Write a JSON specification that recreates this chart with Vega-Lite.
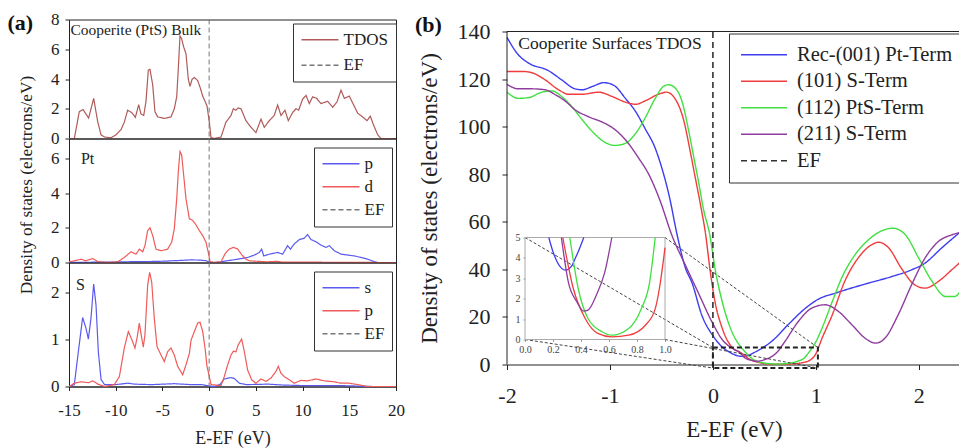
{
"$schema": "https://vega.github.io/schema/vega-lite/v6.json",
"background": "white",
"padding": {"left": 7, "top": 9.5, "right": 0, "bottom": 0},
"spacing": 10,
"resolve": {"scale": {"x": "independent", "y": "independent", "color": "independent", "strokeDash": "independent"}},
"config": {
  "font": "Liberation Serif",
  "view": {"stroke": "#222", "strokeWidth": 1},
  "axis": {"domainColor": "#222", "tickColor": "#222", "labelColor": "#222", "titleColor": "#222", "grid": false, "titleFontWeight": "normal", "labelFont": "Liberation Serif", "titleFont": "Liberation Serif", "labelOverlap": false, "labelFlush": false},
  "legend": {"labelFont": "Liberation Serif", "labelColor": "#222"},
  "title": {"font": "Liberation Serif", "color": "#111"},
  "text": {"font": "Liberation Serif"}
},
"hconcat": [
{
  "title": {"text": "(a)", "anchor": "start", "fontSize": 22, "fontWeight": "bold", "offset": -25, "dx": -9.5},
  "spacing": 0,
  "bounds": "flush",
  "resolve": {"scale": {"x": "independent", "y": "independent", "color": "independent", "strokeDash": "independent"}},
  "vconcat": [
  {
    "width": 327, "height": 119,
    "layer": [
      {"data": {"values": [
        {"x":-15,"y":0,"s":"TDOS"},{"x":-14.43,"y":0,"s":"TDOS"},{"x":-13.9,"y":1.8,"s":"TDOS"},{"x":-13.5,"y":1.95,"s":"TDOS"},{"x":-12.9,"y":1.37,"s":"TDOS"},{"x":-12.36,"y":2.7,"s":"TDOS"},{"x":-11.93,"y":1.14,"s":"TDOS"},{"x":-11.57,"y":0.25,"s":"TDOS"},{"x":-11.2,"y":0.1,"s":"TDOS"},{"x":-10.5,"y":0.05,"s":"TDOS"},{"x":-9.97,"y":0.25,"s":"TDOS"},{"x":-9.43,"y":0.6,"s":"TDOS"},{"x":-9.08,"y":1.1,"s":"TDOS"},{"x":-8.72,"y":1.9,"s":"TDOS"},{"x":-8.29,"y":1.75,"s":"TDOS"},{"x":-7.9,"y":1.42,"s":"TDOS"},{"x":-7.54,"y":2.27,"s":"TDOS"},{"x":-7.3,"y":1.65,"s":"TDOS"},{"x":-7.0,"y":1.55,"s":"TDOS"},{"x":-6.76,"y":2.5,"s":"TDOS"},{"x":-6.51,"y":4.6,"s":"TDOS"},{"x":-6.33,"y":4.65,"s":"TDOS"},{"x":-6.04,"y":3.6,"s":"TDOS"},{"x":-5.8,"y":1.8,"s":"TDOS"},{"x":-5.5,"y":1.45,"s":"TDOS"},{"x":-4.8,"y":1.35,"s":"TDOS"},{"x":-4.08,"y":1.45,"s":"TDOS"},{"x":-3.73,"y":2.0,"s":"TDOS"},{"x":-3.47,"y":2.8,"s":"TDOS"},{"x":-3.3,"y":4.7,"s":"TDOS"},{"x":-3.12,"y":6.9,"s":"TDOS"},{"x":-2.94,"y":6.7,"s":"TDOS"},{"x":-2.73,"y":6.16,"s":"TDOS"},{"x":-2.48,"y":5.7,"s":"TDOS"},{"x":-2.23,"y":4.0,"s":"TDOS"},{"x":-2.05,"y":3.5,"s":"TDOS"},{"x":-1.83,"y":3.98,"s":"TDOS"},{"x":-1.58,"y":4.1,"s":"TDOS"},{"x":-1.23,"y":3.9,"s":"TDOS"},{"x":-0.95,"y":3.4,"s":"TDOS"},{"x":-0.69,"y":2.85,"s":"TDOS"},{"x":-0.44,"y":2.5,"s":"TDOS"},{"x":-0.23,"y":2.2,"s":"TDOS"},{"x":0.02,"y":1.1,"s":"TDOS"},{"x":0.2,"y":0.06,"s":"TDOS"},{"x":0.56,"y":0,"s":"TDOS"},{"x":1.27,"y":0.1,"s":"TDOS"},{"x":1.8,"y":1.1,"s":"TDOS"},{"x":2.34,"y":1.55,"s":"TDOS"},{"x":2.59,"y":2.0,"s":"TDOS"},{"x":2.85,"y":1.9,"s":"TDOS"},{"x":3.1,"y":2.05,"s":"TDOS"},{"x":3.41,"y":2.0,"s":"TDOS"},{"x":3.94,"y":1.2,"s":"TDOS"},{"x":4.48,"y":0.75,"s":"TDOS"},{"x":5.01,"y":0.4,"s":"TDOS"},{"x":5.55,"y":1.3,"s":"TDOS"},{"x":5.9,"y":0.75,"s":"TDOS"},{"x":6.44,"y":1.2,"s":"TDOS"},{"x":6.97,"y":1.55,"s":"TDOS"},{"x":7.33,"y":2.25,"s":"TDOS"},{"x":7.69,"y":1.55,"s":"TDOS"},{"x":8.12,"y":1.9,"s":"TDOS"},{"x":8.47,"y":1.2,"s":"TDOS"},{"x":8.94,"y":1.75,"s":"TDOS"},{"x":9.3,"y":2.0,"s":"TDOS"},{"x":9.58,"y":1.9,"s":"TDOS"},{"x":10.01,"y":2.65,"s":"TDOS"},{"x":10.37,"y":2.9,"s":"TDOS"},{"x":10.72,"y":2.35,"s":"TDOS"},{"x":11.08,"y":2.8,"s":"TDOS"},{"x":11.51,"y":2.7,"s":"TDOS"},{"x":11.97,"y":2.35,"s":"TDOS"},{"x":12.69,"y":2.5,"s":"TDOS"},{"x":13.22,"y":2.1,"s":"TDOS"},{"x":13.68,"y":2.45,"s":"TDOS"},{"x":14.11,"y":3.25,"s":"TDOS"},{"x":14.47,"y":2.7,"s":"TDOS"},{"x":15.0,"y":2.85,"s":"TDOS"},{"x":15.47,"y":2.25,"s":"TDOS"},{"x":15.9,"y":1.7,"s":"TDOS"},{"x":16.43,"y":1.45,"s":"TDOS"},{"x":16.9,"y":1.2,"s":"TDOS"},{"x":17.25,"y":1.5,"s":"TDOS"},{"x":17.6,"y":0.9,"s":"TDOS"},{"x":18.04,"y":0.25,"s":"TDOS"},{"x":18.4,"y":0,"s":"TDOS"},{"x":20,"y":0,"s":"TDOS"}
      ]},
       "mark": {"type": "line", "strokeWidth": 1.2},
       "encoding": {
         "x": {"field": "x", "type": "quantitative", "scale": {"domain": [-15, 20], "nice": false, "zero": false}, "axis": null},
         "y": {"field": "y", "type": "quantitative", "scale": {"domain": [0, 8], "nice": false}, "axis": {"values": [0, 2, 4, 6, 8], "tickCount": 5, "format": "d", "title": null, "labelFontSize": 17, "tickSize": 4, "labelPadding": 6, "labelOverlap": false, "labelBound": false}},
         "color": {"field": "s", "type": "nominal", "sort": null, "scale": {"domain": ["TDOS", "EF"], "range": ["#b05a5a", "#777777"]},
           "legend": {"title": null, "orient": "none", "legendX": 224, "legendY": 4, "strokeColor": "#333", "padding": 7.5, "symbolType": "stroke", "symbolSize": 1369, "clipHeight": 17.5, "symbolStrokeWidth": 1.3, "labelFontSize": 17, "labelOffset": 4, "rowPadding": 6.5}},
         "strokeDash": {"field": "s", "type": "nominal", "sort": null, "scale": {"domain": ["TDOS", "EF"], "range": [[1, 0], [5, 3]]},
           "legend": {"title": null, "orient": "none", "legendX": 224, "legendY": 4, "strokeColor": "#333", "padding": 7.5, "symbolType": "stroke", "symbolSize": 1369, "clipHeight": 17.5, "symbolStrokeWidth": 1.3, "labelFontSize": 17, "labelOffset": 4, "rowPadding": 6.5}}
       }},
      {"data": {"values": [{"x": 0, "s": "EF"}]},
       "mark": {"type": "rule", "strokeWidth": 1},
       "encoding": {
         "x": {"field": "x", "type": "quantitative", "axis": null},
         "color": {"field": "s", "type": "nominal"},
         "strokeDash": {"field": "s", "type": "nominal"}
       }},
      {"data": {"values": [{"x": -14.85, "y": 7.3, "t": "Cooperite (PtS) Bulk"}]},
       "mark": {"type": "text", "align": "left", "baseline": "middle", "fontSize": 15.5, "color": "#222"},
       "encoding": {
         "x": {"field": "x", "type": "quantitative", "axis": null},
         "y": {"field": "y", "type": "quantitative", "axis": {"values": [0, 2, 4, 6, 8], "tickCount": 5, "format": "d", "title": null, "labelFontSize": 17, "tickSize": 4, "labelPadding": 6, "labelOverlap": false, "labelBound": false}},
         "text": {"field": "t"}
       }}
    ]
  },
  {
    "width": 327, "height": 124,
    "layer": [
      {"data": {"values": [
        {"x":-15,"y":0,"s":"p"},{"x":-12,"y":0.02,"s":"p"},{"x":-10,"y":0.03,"s":"p"},{"x":-8,"y":0.05,"s":"p"},{"x":-6,"y":0.06,"s":"p"},{"x":-4.5,"y":0.08,"s":"p"},{"x":-4,"y":0.1,"s":"p"},{"x":-3,"y":0.12,"s":"p"},{"x":-2,"y":0.15,"s":"p"},{"x":-1,"y":0.14,"s":"p"},{"x":-0.3,"y":0.1,"s":"p"},{"x":0,"y":0.02,"s":"p"},{"x":0.5,"y":0,"s":"p"},{"x":1.2,"y":0.03,"s":"p"},{"x":1.45,"y":0.06,"s":"p"},{"x":2.69,"y":0.16,"s":"p"},{"x":4.12,"y":0.29,"s":"p"},{"x":4.84,"y":0.43,"s":"p"},{"x":5.37,"y":0.58,"s":"p"},{"x":5.62,"y":0.77,"s":"p"},{"x":5.84,"y":0.38,"s":"p"},{"x":6.44,"y":0.48,"s":"p"},{"x":7.33,"y":0.58,"s":"p"},{"x":7.87,"y":0.48,"s":"p"},{"x":8.4,"y":0.97,"s":"p"},{"x":8.7,"y":0.77,"s":"p"},{"x":9.11,"y":1.07,"s":"p"},{"x":9.65,"y":1.32,"s":"p"},{"x":10.18,"y":1.4,"s":"p"},{"x":10.54,"y":1.61,"s":"p"},{"x":10.9,"y":1.32,"s":"p"},{"x":11.43,"y":1.2,"s":"p"},{"x":11.97,"y":1.0,"s":"p"},{"x":12.5,"y":0.87,"s":"p"},{"x":12.86,"y":0.97,"s":"p"},{"x":13.4,"y":0.68,"s":"p"},{"x":14.11,"y":0.48,"s":"p"},{"x":14.83,"y":0.43,"s":"p"},{"x":15.54,"y":0.38,"s":"p"},{"x":16.25,"y":0.29,"s":"p"},{"x":16.97,"y":0.19,"s":"p"},{"x":17.68,"y":0.05,"s":"p"},{"x":18.04,"y":0,"s":"p"},{"x":20,"y":0,"s":"p"},
        {"x":-15,"y":0.04,"s":"d"},{"x":-14.43,"y":0.1,"s":"d"},{"x":-13.7,"y":0.19,"s":"d"},{"x":-13.2,"y":0.1,"s":"d"},{"x":-12.46,"y":0.23,"s":"d"},{"x":-11.9,"y":0.04,"s":"d"},{"x":-10.86,"y":0,"s":"d"},{"x":-9.79,"y":0.04,"s":"d"},{"x":-9.08,"y":0.29,"s":"d"},{"x":-8.36,"y":0.62,"s":"d"},{"x":-7.83,"y":0.48,"s":"d"},{"x":-7.47,"y":0.77,"s":"d"},{"x":-7.11,"y":0.62,"s":"d"},{"x":-6.87,"y":0.97,"s":"d"},{"x":-6.58,"y":1.84,"s":"d"},{"x":-6.33,"y":2.0,"s":"d"},{"x":-6.04,"y":1.55,"s":"d"},{"x":-5.69,"y":0.77,"s":"d"},{"x":-5.15,"y":0.68,"s":"d"},{"x":-4.44,"y":0.77,"s":"d"},{"x":-4.01,"y":1.17,"s":"d"},{"x":-3.73,"y":1.94,"s":"d"},{"x":-3.47,"y":3.68,"s":"d"},{"x":-3.3,"y":5.24,"s":"d"},{"x":-3.12,"y":6.4,"s":"d"},{"x":-2.94,"y":6.2,"s":"d"},{"x":-2.73,"y":5.05,"s":"d"},{"x":-2.48,"y":3.68,"s":"d"},{"x":-2.12,"y":2.52,"s":"d"},{"x":-1.77,"y":2.43,"s":"d"},{"x":-1.41,"y":2.17,"s":"d"},{"x":-1.05,"y":1.84,"s":"d"},{"x":-0.69,"y":1.55,"s":"d"},{"x":-0.34,"y":1.17,"s":"d"},{"x":-0.09,"y":0.58,"s":"d"},{"x":0.1,"y":0.04,"s":"d"},{"x":0.6,"y":0,"s":"d"},{"x":1.27,"y":0.04,"s":"d"},{"x":1.7,"y":0.5,"s":"d"},{"x":2.16,"y":0.78,"s":"d"},{"x":2.6,"y":0.87,"s":"d"},{"x":3.05,"y":0.78,"s":"d"},{"x":3.48,"y":0.45,"s":"d"},{"x":3.94,"y":0.19,"s":"d"},{"x":4.3,"y":0.1,"s":"d"},{"x":4.8,"y":0.08,"s":"d"},{"x":6.2,"y":0.04,"s":"d"},{"x":7.3,"y":0.07,"s":"d"},{"x":7.8,"y":0.02,"s":"d"},{"x":10,"y":0.02,"s":"d"},{"x":15,"y":0.01,"s":"d"},{"x":18,"y":0,"s":"d"},{"x":20,"y":0,"s":"d"}
      ]},
       "mark": {"type": "line", "strokeWidth": 1.2},
       "encoding": {
         "x": {"field": "x", "type": "quantitative", "scale": {"domain": [-15, 20], "nice": false, "zero": false}, "axis": null},
         "y": {"field": "y", "type": "quantitative", "scale": {"domain": [0, 7.15], "nice": false}, "axis": {"values": [0, 2, 4, 6], "format": "d", "title": "Density of states (electrons/eV)", "titleFontSize": 17.3, "titleY": 46, "titlePadding": 15, "labelFontSize": 17, "tickSize": 4, "labelPadding": 6, "labelOverlap": false}},
         "color": {"field": "s", "type": "nominal", "sort": null, "scale": {"domain": ["p", "d", "EF"], "range": ["#5a5af0", "#f05a5a", "#777777"]},
           "legend": {"title": null, "orient": "none", "legendX": 245, "legendY": 9, "strokeColor": "#333", "padding": 7.5, "symbolType": "stroke", "symbolSize": 1369, "clipHeight": 17.5, "symbolStrokeWidth": 1.3, "labelFontSize": 17, "labelOffset": 4, "rowPadding": 4}},
         "strokeDash": {"field": "s", "type": "nominal", "sort": null, "scale": {"domain": ["p", "d", "EF"], "range": [[1, 0], [1, 0], [5, 3]]},
           "legend": {"title": null, "orient": "none", "legendX": 245, "legendY": 9, "strokeColor": "#333", "padding": 7.5, "symbolType": "stroke", "symbolSize": 1369, "clipHeight": 17.5, "symbolStrokeWidth": 1.3, "labelFontSize": 17, "labelOffset": 4, "rowPadding": 4}}
       }},
      {"data": {"values": [{"x": 0, "s": "EF"}]},
       "mark": {"type": "rule", "strokeWidth": 1},
       "encoding": {
         "x": {"field": "x", "type": "quantitative", "axis": null},
         "color": {"field": "s", "type": "nominal"},
         "strokeDash": {"field": "s", "type": "nominal"}
       }},
      {"data": {"values": [{"x": -13.72, "y": 5.94, "t": "Pt"}]},
       "mark": {"type": "text", "align": "left", "baseline": "middle", "fontSize": 16, "color": "#222"},
       "encoding": {
         "x": {"field": "x", "type": "quantitative", "axis": null},
         "y": {"field": "y", "type": "quantitative", "axis": {"values": [0, 2, 4, 6], "format": "d", "title": "Density of states (electrons/eV)", "titleFontSize": 17.3, "titleY": 46, "titlePadding": 15, "labelFontSize": 17, "tickSize": 4, "labelPadding": 6, "labelOverlap": false}},
         "text": {"field": "t"}
       }}
    ]
  },
  {
    "width": 327, "height": 124,
    "layer": [
      {"data": {"values": [
        {"x":-15,"y":0,"s":"s"},{"x":-14.43,"y":0.04,"s":"s"},{"x":-14.0,"y":0.74,"s":"s"},{"x":-13.54,"y":1.47,"s":"s"},{"x":-13.18,"y":1.24,"s":"s"},{"x":-12.93,"y":1.01,"s":"s"},{"x":-12.65,"y":1.45,"s":"s"},{"x":-12.36,"y":2.18,"s":"s"},{"x":-12.11,"y":1.74,"s":"s"},{"x":-11.86,"y":0.74,"s":"s"},{"x":-11.57,"y":0.15,"s":"s"},{"x":-11.2,"y":0.04,"s":"s"},{"x":-10,"y":0.04,"s":"s"},{"x":-8.7,"y":0.07,"s":"s"},{"x":-8,"y":0.05,"s":"s"},{"x":-6.2,"y":0.04,"s":"s"},{"x":-3.7,"y":0.06,"s":"s"},{"x":-2,"y":0.04,"s":"s"},{"x":-0.8,"y":0.04,"s":"s"},{"x":0,"y":0.01,"s":"s"},{"x":0.6,"y":0,"s":"s"},{"x":1.2,"y":0.05,"s":"s"},{"x":1.62,"y":0.16,"s":"s"},{"x":2.34,"y":0.19,"s":"s"},{"x":2.7,"y":0.17,"s":"s"},{"x":3.23,"y":0.07,"s":"s"},{"x":4.0,"y":0.04,"s":"s"},{"x":6.3,"y":0.05,"s":"s"},{"x":8,"y":0.03,"s":"s"},{"x":10,"y":0.02,"s":"s"},{"x":14,"y":0.02,"s":"s"},{"x":17.5,"y":0,"s":"s"},{"x":20,"y":0,"s":"s"},
        {"x":-15,"y":0,"s":"p"},{"x":-14.43,"y":0.07,"s":"p"},{"x":-13.7,"y":0.1,"s":"p"},{"x":-12.9,"y":0.08,"s":"p"},{"x":-12.46,"y":0.12,"s":"p"},{"x":-11.9,"y":0.05,"s":"p"},{"x":-11.2,"y":0,"s":"p"},{"x":-10.15,"y":0.04,"s":"p"},{"x":-9.61,"y":0.21,"s":"p"},{"x":-9.08,"y":0.82,"s":"p"},{"x":-8.65,"y":1.17,"s":"p"},{"x":-8.26,"y":0.99,"s":"p"},{"x":-7.94,"y":0.82,"s":"p"},{"x":-7.72,"y":1.03,"s":"p"},{"x":-7.47,"y":1.35,"s":"p"},{"x":-7.3,"y":1.13,"s":"p"},{"x":-7.05,"y":0.84,"s":"p"},{"x":-6.87,"y":1.1,"s":"p"},{"x":-6.58,"y":2.16,"s":"p"},{"x":-6.37,"y":2.43,"s":"p"},{"x":-6.15,"y":2.23,"s":"p"},{"x":-5.87,"y":1.45,"s":"p"},{"x":-5.58,"y":0.85,"s":"p"},{"x":-5.15,"y":0.67,"s":"p"},{"x":-4.8,"y":0.53,"s":"p"},{"x":-4.44,"y":0.74,"s":"p"},{"x":-4.08,"y":0.82,"s":"p"},{"x":-3.73,"y":0.67,"s":"p"},{"x":-3.37,"y":0.43,"s":"p"},{"x":-2.83,"y":0.25,"s":"p"},{"x":-2.48,"y":0.46,"s":"p"},{"x":-2.12,"y":0.7,"s":"p"},{"x":-1.93,"y":0.99,"s":"p"},{"x":-1.58,"y":1.17,"s":"p"},{"x":-1.23,"y":1.35,"s":"p"},{"x":-0.98,"y":1.37,"s":"p"},{"x":-0.69,"y":1.17,"s":"p"},{"x":-0.44,"y":0.82,"s":"p"},{"x":-0.23,"y":0.43,"s":"p"},{"x":0.02,"y":0.21,"s":"p"},{"x":0.2,"y":0.04,"s":"p"},{"x":1.27,"y":0.02,"s":"p"},{"x":1.62,"y":0.21,"s":"p"},{"x":1.98,"y":0.46,"s":"p"},{"x":2.34,"y":0.67,"s":"p"},{"x":2.59,"y":0.75,"s":"p"},{"x":2.87,"y":0.74,"s":"p"},{"x":3.12,"y":0.89,"s":"p"},{"x":3.48,"y":1.01,"s":"p"},{"x":3.77,"y":0.74,"s":"p"},{"x":4.12,"y":0.35,"s":"p"},{"x":4.56,"y":0.14,"s":"p"},{"x":5.01,"y":0.07,"s":"p"},{"x":5.55,"y":0.16,"s":"p"},{"x":6.08,"y":0.11,"s":"p"},{"x":6.62,"y":0.18,"s":"p"},{"x":7.15,"y":0.32,"s":"p"},{"x":7.4,"y":0.43,"s":"p"},{"x":7.69,"y":0.28,"s":"p"},{"x":8.05,"y":0.21,"s":"p"},{"x":8.6,"y":0.14,"s":"p"},{"x":9.1,"y":0.07,"s":"p"},{"x":9.83,"y":0.13,"s":"p"},{"x":10.5,"y":0.12,"s":"p"},{"x":11.43,"y":0.16,"s":"p"},{"x":12.33,"y":0.12,"s":"p"},{"x":13.4,"y":0.1,"s":"p"},{"x":14.1,"y":0.07,"s":"p"},{"x":15.0,"y":0.07,"s":"p"},{"x":15.9,"y":0.04,"s":"p"},{"x":16.97,"y":0,"s":"p"},{"x":20,"y":0,"s":"p"}
      ]},
       "mark": {"type": "line", "strokeWidth": 1.2},
       "encoding": {
         "x": {"field": "x", "type": "quantitative", "scale": {"domain": [-15, 20], "nice": false, "zero": false}, "axis": {"values": [-15, -10, -5, 0, 5, 10, 15, 20], "format": "d", "title": "E-EF (eV)", "labelFontSize": 17, "titleFontSize": 18, "tickSize": 4, "labelPadding": 12, "titlePadding": 11, "labelFlush": false, "labelOverlap": false, "labelExpr": "replace(datum.label, '\u2212', '-')"}},
         "y": {"field": "y", "type": "quantitative", "scale": {"domain": [0, 2.64], "nice": false}, "axis": {"values": [0, 1, 2], "format": "d", "title": null, "labelFontSize": 17, "tickSize": 4, "labelPadding": 6, "labelOverlap": false}},
         "color": {"field": "s", "type": "nominal", "sort": null, "scale": {"domain": ["s", "p", "EF"], "range": ["#5a5af0", "#f05a5a", "#777777"]},
           "legend": {"title": null, "orient": "none", "legendX": 245, "legendY": 9, "strokeColor": "#333", "padding": 7.5, "symbolType": "stroke", "symbolSize": 1369, "clipHeight": 17.5, "symbolStrokeWidth": 1.3, "labelFontSize": 17, "labelOffset": 4, "rowPadding": 4}},
         "strokeDash": {"field": "s", "type": "nominal", "sort": null, "scale": {"domain": ["s", "p", "EF"], "range": [[1, 0], [1, 0], [5, 3]]},
           "legend": {"title": null, "orient": "none", "legendX": 245, "legendY": 9, "strokeColor": "#333", "padding": 7.5, "symbolType": "stroke", "symbolSize": 1369, "clipHeight": 17.5, "symbolStrokeWidth": 1.3, "labelFontSize": 17, "labelOffset": 4, "rowPadding": 4}}
       }},
      {"data": {"values": [{"x": 0, "s": "EF"}]},
       "mark": {"type": "rule", "strokeWidth": 1},
       "encoding": {
         "x": {"field": "x", "type": "quantitative", "axis": {"values": [-15, -10, -5, 0, 5, 10, 15, 20], "format": "d", "title": "E-EF (eV)", "labelFontSize": 17, "titleFontSize": 18, "tickSize": 4, "labelPadding": 12, "titlePadding": 11, "labelFlush": false, "labelOverlap": false, "labelExpr": "replace(datum.label, '\u2212', '-')"}},
         "color": {"field": "s", "type": "nominal"},
         "strokeDash": {"field": "s", "type": "nominal"}
       }},
      {"data": {"values": [{"x": -14.25, "y": 2.17, "t": "S"}]},
       "mark": {"type": "text", "align": "left", "baseline": "middle", "fontSize": 16, "color": "#222"},
       "encoding": {
         "x": {"field": "x", "type": "quantitative", "axis": {"values": [-15, -10, -5, 0, 5, 10, 15, 20], "format": "d", "title": "E-EF (eV)", "labelFontSize": 17, "titleFontSize": 18, "tickSize": 4, "labelPadding": 12, "titlePadding": 11, "labelFlush": false, "labelOverlap": false, "labelExpr": "replace(datum.label, '\u2212', '-')"}},
         "y": {"field": "y", "type": "quantitative", "axis": {"values": [0, 1, 2], "format": "d", "title": null, "labelFontSize": 17, "tickSize": 4, "labelPadding": 6, "labelOverlap": false}},
         "text": {"field": "t"}
       }}
    ]
  }
  ]
},
{
  "title": {"text": "(b)", "anchor": "start", "fontSize": 22, "fontWeight": "bold", "offset": -17, "dx": -3},
  "width": 454, "height": 345,
  "view": {"stroke": null},
  "resolve": {"scale": {"x": "independent", "y": "independent"}, "axis": {"x": "independent", "y": "independent"}},
  "layer": [
    {"layer": [
      {"data": {"values": [
        {"x":-2,"y":137.5,"s":"Rec-(001) Pt-Term"},{"x":-1.89,"y":130.2,"s":"Rec-(001) Pt-Term"},{"x":-1.79,"y":126.7,"s":"Rec-(001) Pt-Term"},{"x":-1.6,"y":123.6,"s":"Rec-(001) Pt-Term"},{"x":-1.47,"y":119.7,"s":"Rec-(001) Pt-Term"},{"x":-1.34,"y":115.9,"s":"Rec-(001) Pt-Term"},{"x":-1.27,"y":115.5,"s":"Rec-(001) Pt-Term"},{"x":-1.17,"y":116.9,"s":"Rec-(001) Pt-Term"},{"x":-1.06,"y":118.5,"s":"Rec-(001) Pt-Term"},{"x":-0.96,"y":117.3,"s":"Rec-(001) Pt-Term"},{"x":-0.85,"y":111.9,"s":"Rec-(001) Pt-Term"},{"x":-0.75,"y":106.3,"s":"Rec-(001) Pt-Term"},{"x":-0.66,"y":99.3,"s":"Rec-(001) Pt-Term"},{"x":-0.56,"y":90.9,"s":"Rec-(001) Pt-Term"},{"x":-0.5,"y":83.2,"s":"Rec-(001) Pt-Term"},{"x":-0.42,"y":70,"s":"Rec-(001) Pt-Term"},{"x":-0.35,"y":55,"s":"Rec-(001) Pt-Term"},{"x":-0.27,"y":41,"s":"Rec-(001) Pt-Term"},{"x":-0.2,"y":34,"s":"Rec-(001) Pt-Term"},{"x":-0.11,"y":21,"s":"Rec-(001) Pt-Term"},{"x":0.01,"y":11.5,"s":"Rec-(001) Pt-Term"},{"x":0.12,"y":6.3,"s":"Rec-(001) Pt-Term"},{"x":0.17,"y":5.0,"s":"Rec-(001) Pt-Term"},{"x":0.23,"y":3.8,"s":"Rec-(001) Pt-Term"},{"x":0.29,"y":3.4,"s":"Rec-(001) Pt-Term"},{"x":0.35,"y":3.9,"s":"Rec-(001) Pt-Term"},{"x":0.4,"y":5.0,"s":"Rec-(001) Pt-Term"},{"x":0.45,"y":6.2,"s":"Rec-(001) Pt-Term"},{"x":0.57,"y":9.7,"s":"Rec-(001) Pt-Term"},{"x":0.73,"y":16.7,"s":"Rec-(001) Pt-Term"},{"x":0.9,"y":23.7,"s":"Rec-(001) Pt-Term"},{"x":1.03,"y":27.6,"s":"Rec-(001) Pt-Term"},{"x":1.19,"y":30,"s":"Rec-(001) Pt-Term"},{"x":1.32,"y":31.8,"s":"Rec-(001) Pt-Term"},{"x":1.51,"y":34.2,"s":"Rec-(001) Pt-Term"},{"x":1.74,"y":37,"s":"Rec-(001) Pt-Term"},{"x":1.93,"y":39.8,"s":"Rec-(001) Pt-Term"},{"x":2.06,"y":42.6,"s":"Rec-(001) Pt-Term"},{"x":2.22,"y":48.9,"s":"Rec-(001) Pt-Term"},{"x":2.41,"y":56,"s":"Rec-(001) Pt-Term"},
        {"x":-2,"y":123.2,"s":"(101) S-Term"},{"x":-1.85,"y":123.2,"s":"(101) S-Term"},{"x":-1.76,"y":122.7,"s":"(101) S-Term"},{"x":-1.63,"y":119.7,"s":"(101) S-Term"},{"x":-1.5,"y":115.5,"s":"(101) S-Term"},{"x":-1.4,"y":113.6,"s":"(101) S-Term"},{"x":-1.27,"y":113.6,"s":"(101) S-Term"},{"x":-1.11,"y":114.5,"s":"(101) S-Term"},{"x":-0.98,"y":112.7,"s":"(101) S-Term"},{"x":-0.85,"y":110.3,"s":"(101) S-Term"},{"x":-0.75,"y":109.4,"s":"(101) S-Term"},{"x":-0.66,"y":110.8,"s":"(101) S-Term"},{"x":-0.53,"y":113.6,"s":"(101) S-Term"},{"x":-0.45,"y":114.5,"s":"(101) S-Term"},{"x":-0.37,"y":111.9,"s":"(101) S-Term"},{"x":-0.28,"y":102.1,"s":"(101) S-Term"},{"x":-0.22,"y":89.5,"s":"(101) S-Term"},{"x":-0.17,"y":78.3,"s":"(101) S-Term"},{"x":-0.12,"y":67,"s":"(101) S-Term"},{"x":-0.07,"y":54.5,"s":"(101) S-Term"},{"x":-0.03,"y":40.5,"s":"(101) S-Term"},{"x":0.02,"y":26.5,"s":"(101) S-Term"},{"x":0.09,"y":15.3,"s":"(101) S-Term"},{"x":0.18,"y":7.5,"s":"(101) S-Term"},{"x":0.27,"y":5,"s":"(101) S-Term"},{"x":0.345,"y":2.5,"s":"(101) S-Term"},{"x":0.43,"y":1.0,"s":"(101) S-Term"},{"x":0.52,"y":0.3,"s":"(101) S-Term"},{"x":0.62,"y":0.13,"s":"(101) S-Term"},{"x":0.74,"y":0.21,"s":"(101) S-Term"},{"x":0.86,"y":0.7,"s":"(101) S-Term"},{"x":0.93,"y":1.5,"s":"(101) S-Term"},{"x":1.0,"y":4.5,"s":"(101) S-Term"},{"x":1.06,"y":11,"s":"(101) S-Term"},{"x":1.16,"y":20.9,"s":"(101) S-Term"},{"x":1.28,"y":34.9,"s":"(101) S-Term"},{"x":1.41,"y":44.7,"s":"(101) S-Term"},{"x":1.54,"y":50.3,"s":"(101) S-Term"},{"x":1.61,"y":51.4,"s":"(101) S-Term"},{"x":1.71,"y":48.9,"s":"(101) S-Term"},{"x":1.83,"y":40.5,"s":"(101) S-Term"},{"x":1.96,"y":33.5,"s":"(101) S-Term"},{"x":2.06,"y":32.1,"s":"(101) S-Term"},{"x":2.19,"y":34.9,"s":"(101) S-Term"},{"x":2.32,"y":39.8,"s":"(101) S-Term"},{"x":2.41,"y":43.3,"s":"(101) S-Term"},
        {"x":-2,"y":114.5,"s":"(112) PtS-Term"},{"x":-1.89,"y":111.9,"s":"(112) PtS-Term"},{"x":-1.79,"y":112.2,"s":"(112) PtS-Term"},{"x":-1.66,"y":114.5,"s":"(112) PtS-Term"},{"x":-1.56,"y":115,"s":"(112) PtS-Term"},{"x":-1.47,"y":112.7,"s":"(112) PtS-Term"},{"x":-1.37,"y":108.4,"s":"(112) PtS-Term"},{"x":-1.27,"y":102.9,"s":"(112) PtS-Term"},{"x":-1.17,"y":97.9,"s":"(112) PtS-Term"},{"x":-1.06,"y":93.7,"s":"(112) PtS-Term"},{"x":-0.95,"y":92.1,"s":"(112) PtS-Term"},{"x":-0.85,"y":93.0,"s":"(112) PtS-Term"},{"x":-0.75,"y":97.2,"s":"(112) PtS-Term"},{"x":-0.66,"y":103.5,"s":"(112) PtS-Term"},{"x":-0.56,"y":111.9,"s":"(112) PtS-Term"},{"x":-0.48,"y":116.9,"s":"(112) PtS-Term"},{"x":-0.43,"y":117.6,"s":"(112) PtS-Term"},{"x":-0.37,"y":116.4,"s":"(112) PtS-Term"},{"x":-0.3,"y":110.6,"s":"(112) PtS-Term"},{"x":-0.24,"y":99.3,"s":"(112) PtS-Term"},{"x":-0.19,"y":88.1,"s":"(112) PtS-Term"},{"x":-0.14,"y":76.9,"s":"(112) PtS-Term"},{"x":-0.09,"y":65,"s":"(112) PtS-Term"},{"x":-0.03,"y":54.5,"s":"(112) PtS-Term"},{"x":0.02,"y":40.5,"s":"(112) PtS-Term"},{"x":0.09,"y":26.5,"s":"(112) PtS-Term"},{"x":0.17,"y":15.3,"s":"(112) PtS-Term"},{"x":0.28,"y":6.9,"s":"(112) PtS-Term"},{"x":0.32,"y":5,"s":"(112) PtS-Term"},{"x":0.38,"y":2.5,"s":"(112) PtS-Term"},{"x":0.45,"y":1.03,"s":"(112) PtS-Term"},{"x":0.55,"y":0.38,"s":"(112) PtS-Term"},{"x":0.62,"y":0.21,"s":"(112) PtS-Term"},{"x":0.74,"y":0.54,"s":"(112) PtS-Term"},{"x":0.83,"y":1.5,"s":"(112) PtS-Term"},{"x":0.89,"y":2.8,"s":"(112) PtS-Term"},{"x":0.93,"y":5,"s":"(112) PtS-Term"},{"x":1.0,"y":9.5,"s":"(112) PtS-Term"},{"x":1.06,"y":15.3,"s":"(112) PtS-Term"},{"x":1.16,"y":26.5,"s":"(112) PtS-Term"},{"x":1.25,"y":36.3,"s":"(112) PtS-Term"},{"x":1.38,"y":46.1,"s":"(112) PtS-Term"},{"x":1.51,"y":52.4,"s":"(112) PtS-Term"},{"x":1.64,"y":56.2,"s":"(112) PtS-Term"},{"x":1.75,"y":57.3,"s":"(112) PtS-Term"},{"x":1.87,"y":54.5,"s":"(112) PtS-Term"},{"x":2.0,"y":44.7,"s":"(112) PtS-Term"},{"x":2.13,"y":34.9,"s":"(112) PtS-Term"},{"x":2.26,"y":28.6,"s":"(112) PtS-Term"},{"x":2.35,"y":28.6,"s":"(112) PtS-Term"},{"x":2.41,"y":31.4,"s":"(112) PtS-Term"},
        {"x":-2,"y":117.8,"s":"(211) S-Term"},{"x":-1.89,"y":115.9,"s":"(211) S-Term"},{"x":-1.76,"y":115.9,"s":"(211) S-Term"},{"x":-1.63,"y":115.5,"s":"(211) S-Term"},{"x":-1.53,"y":113.4,"s":"(211) S-Term"},{"x":-1.43,"y":110.6,"s":"(211) S-Term"},{"x":-1.34,"y":107.1,"s":"(211) S-Term"},{"x":-1.21,"y":104.2,"s":"(211) S-Term"},{"x":-1.05,"y":101.4,"s":"(211) S-Term"},{"x":-0.95,"y":98.7,"s":"(211) S-Term"},{"x":-0.85,"y":94.5,"s":"(211) S-Term"},{"x":-0.72,"y":86.7,"s":"(211) S-Term"},{"x":-0.62,"y":79.7,"s":"(211) S-Term"},{"x":-0.51,"y":68.5,"s":"(211) S-Term"},{"x":-0.4,"y":54.5,"s":"(211) S-Term"},{"x":-0.27,"y":42,"s":"(211) S-Term"},{"x":-0.14,"y":30,"s":"(211) S-Term"},{"x":-0.01,"y":18,"s":"(211) S-Term"},{"x":0.09,"y":10.5,"s":"(211) S-Term"},{"x":0.2,"y":6.5,"s":"(211) S-Term"},{"x":0.26,"y":5,"s":"(211) S-Term"},{"x":0.31,"y":2.8,"s":"(211) S-Term"},{"x":0.37,"y":1.85,"s":"(211) S-Term"},{"x":0.42,"y":1.39,"s":"(211) S-Term"},{"x":0.45,"y":1.44,"s":"(211) S-Term"},{"x":0.51,"y":2.18,"s":"(211) S-Term"},{"x":0.57,"y":3.3,"s":"(211) S-Term"},{"x":0.62,"y":5,"s":"(211) S-Term"},{"x":0.7,"y":9.7,"s":"(211) S-Term"},{"x":0.83,"y":18.1,"s":"(211) S-Term"},{"x":0.96,"y":23.7,"s":"(211) S-Term"},{"x":1.09,"y":25.1,"s":"(211) S-Term"},{"x":1.22,"y":22.3,"s":"(211) S-Term"},{"x":1.35,"y":16.7,"s":"(211) S-Term"},{"x":1.48,"y":11,"s":"(211) S-Term"},{"x":1.58,"y":9.0,"s":"(211) S-Term"},{"x":1.67,"y":11,"s":"(211) S-Term"},{"x":1.8,"y":20.9,"s":"(211) S-Term"},{"x":1.93,"y":33.5,"s":"(211) S-Term"},{"x":2.06,"y":44.7,"s":"(211) S-Term"},{"x":2.19,"y":51.7,"s":"(211) S-Term"},{"x":2.32,"y":54.5,"s":"(211) S-Term"},{"x":2.41,"y":55.6,"s":"(211) S-Term"}
      ]},
       "mark": {"type": "line", "strokeWidth": 1.4, "interpolate": "monotone"},
       "encoding": {
         "x": {"field": "x", "type": "quantitative", "scale": {"domain": [-2, 2.41], "nice": false, "zero": false}, "axis": {"values": [-2, -1, 0, 1, 2], "format": "d", "title": "E-EF (eV)", "labelFontSize": 22, "titleFontSize": 23, "tickSize": 5, "labelPadding": 16, "titlePadding": 12, "labelFlush": false, "labelOverlap": false, "labelExpr": "replace(datum.label, '\u2212', '-')"}},
         "y": {"field": "y", "type": "quantitative", "scale": {"domain": [0, 145.045], "nice": false}, "axis": {"values": [0, 20, 40, 60, 80, 100, 120, 140], "format": "d", "domain": false, "title": "Density of states (electrons/eV)", "titleY": 178.5, "labelFontSize": 22, "titleFontSize": 23, "tickSize": 5, "labelPadding": 12, "titlePadding": 16, "labelOverlap": false}},
         "color": {"field": "s", "type": "nominal", "sort": null, "scale": {"domain": ["Rec-(001) Pt-Term", "(101) S-Term", "(112) PtS-Term", "(211) S-Term", "EF"], "range": ["#3c3cf0", "#f03c3c", "#40e040", "#8e3c9e", "#333333"]},
           "legend": {"title": null, "orient": "none", "legendX": 222, "legendY": 14, "strokeColor": "#333", "padding": 11, "symbolType": "stroke", "symbolSize": 2116, "clipHeight": 20.5, "symbolStrokeWidth": 1.5, "labelFontSize": 20.5, "labelOffset": 9, "rowPadding": 5.5, "labelLimit": 400}},
         "strokeDash": {"field": "s", "type": "nominal", "sort": null, "scale": {"domain": ["Rec-(001) Pt-Term", "(101) S-Term", "(112) PtS-Term", "(211) S-Term", "EF"], "range": [[1, 0], [1, 0], [1, 0], [1, 0], [6, 4]]},
           "legend": {"title": null, "orient": "none", "legendX": 222, "legendY": 14, "strokeColor": "#333", "padding": 11, "symbolType": "stroke", "symbolSize": 2116, "clipHeight": 20.5, "symbolStrokeWidth": 1.5, "labelFontSize": 20.5, "labelOffset": 9, "rowPadding": 5.5, "labelLimit": 400}}
       }},
      {"data": {"values": [{"x": 0, "y": -1.5, "y2": 140, "s": "EF"}]},
       "mark": {"type": "rule", "strokeWidth": 1.6},
       "encoding": {
         "x": {"field": "x", "type": "quantitative"},
         "y": {"field": "y", "type": "quantitative"},
         "y2": {"field": "y2"},
         "color": {"field": "s", "type": "nominal"},
         "strokeDash": {"field": "s", "type": "nominal"}
       }},
      {"data": {"values": [{"x": -2, "x2": 2.41, "y": 140, "y2": 140}, {"x": -2, "x2": -2, "y": 0, "y2": 140}]},
       "mark": {"type": "rule", "strokeWidth": 1, "color": "#222"},
       "encoding": {
         "x": {"field": "x", "type": "quantitative"},
         "x2": {"field": "x2"},
         "y": {"field": "y", "type": "quantitative"},
         "y2": {"field": "y2"}
       }},
      {"data": {"values": [{"x": 0, "x2": 1.02, "y": -1.5, "y2": 7.1}]},
       "mark": {"type": "rect", "fill": "transparent", "stroke": "#222", "strokeWidth": 2, "strokeDash": [5, 3]},
       "encoding": {
         "x": {"field": "x", "type": "quantitative"},
         "x2": {"field": "x2"},
         "y": {"field": "y", "type": "quantitative"},
         "y2": {"field": "y2"}
       }},
      {"data": {"values": [
         {"x": -1.825, "y": 53.4, "x2": 0, "y2": 7.1},
         {"x": -0.466, "y": 53.4, "x2": 1.02, "y2": 7.1},
         {"x": -1.825, "y": 10.5, "x2": 0, "y2": -1.5},
         {"x": -0.466, "y": 10.5, "x2": 1.02, "y2": -1.5}
       ]},
       "mark": {"type": "rule", "strokeWidth": 1, "color": "#444", "strokeDash": [3, 2]},
       "encoding": {
         "x": {"field": "x", "type": "quantitative"},
         "x2": {"field": "x2"},
         "y": {"field": "y", "type": "quantitative"},
         "y2": {"field": "y2"}
       }},
      {"data": {"values": [{"x": -1.89, "y": 134.9, "t": "Cooperite Surfaces TDOS"}]},
       "mark": {"type": "text", "align": "left", "baseline": "middle", "fontSize": 17.5, "color": "#222"},
       "encoding": {
         "x": {"field": "x", "type": "quantitative"},
         "y": {"field": "y", "type": "quantitative"},
         "text": {"field": "t"}
       }}
    ]},
    {"layer": [
      {"data": {"values": [{"x": 0, "x2": 1, "y": 0, "y2": 5}]},
       "mark": {"type": "rect", "fill": "transparent", "stroke": "#aaaaaa", "strokeWidth": 1},
       "encoding": {
         "x": {"field": "x", "type": "quantitative", "scale": {"domain": [0, 1], "range": [18, 158], "nice": false, "zero": false}, "axis": {"orient": "bottom", "offset": -25, "values": [0, 0.2, 0.4, 0.6, 0.8, 1], "format": ".1f", "title": null, "domain": false, "tickSize": 2, "tickColor": "#999", "labelFontSize": 10, "labelColor": "#444", "labelPadding": 3, "labelFlush": false, "labelOverlap": false}},
         "x2": {"field": "x2"},
         "y": {"field": "y", "type": "quantitative", "scale": {"domain": [0, 5], "range": [320, 218], "nice": false}, "axis": {"orient": "left", "offset": -18, "values": [0, 1, 2, 3, 4, 5], "format": "d", "title": null, "domain": false, "tickSize": 2, "tickColor": "#999", "labelFontSize": 10, "labelColor": "#444", "labelPadding": 3, "labelOverlap": false}},
         "y2": {"field": "y2"}
       }},
      {"data": {"values": [
        {"x":0.17,"y":5,"s":"Rec-(001) Pt-Term"},{"x":0.2,"y":4.3,"s":"Rec-(001) Pt-Term"},{"x":0.23,"y":3.8,"s":"Rec-(001) Pt-Term"},{"x":0.26,"y":3.5,"s":"Rec-(001) Pt-Term"},{"x":0.29,"y":3.4,"s":"Rec-(001) Pt-Term"},{"x":0.33,"y":3.57,"s":"Rec-(001) Pt-Term"},{"x":0.36,"y":4.0,"s":"Rec-(001) Pt-Term"},{"x":0.38,"y":4.3,"s":"Rec-(001) Pt-Term"},{"x":0.42,"y":5,"s":"Rec-(001) Pt-Term"},
        {"x":0.27,"y":5,"s":"(101) S-Term"},{"x":0.345,"y":2.5,"s":"(101) S-Term"},{"x":0.43,"y":1.03,"s":"(101) S-Term"},{"x":0.52,"y":0.3,"s":"(101) S-Term"},{"x":0.62,"y":0.13,"s":"(101) S-Term"},{"x":0.74,"y":0.21,"s":"(101) S-Term"},{"x":0.86,"y":0.7,"s":"(101) S-Term"},{"x":0.93,"y":1.5,"s":"(101) S-Term"},{"x":0.96,"y":2.5,"s":"(101) S-Term"},{"x":1.0,"y":4.5,"s":"(101) S-Term"},
        {"x":0.32,"y":5,"s":"(112) PtS-Term"},{"x":0.38,"y":2.5,"s":"(112) PtS-Term"},{"x":0.45,"y":1.03,"s":"(112) PtS-Term"},{"x":0.55,"y":0.38,"s":"(112) PtS-Term"},{"x":0.62,"y":0.21,"s":"(112) PtS-Term"},{"x":0.74,"y":0.54,"s":"(112) PtS-Term"},{"x":0.83,"y":1.5,"s":"(112) PtS-Term"},{"x":0.89,"y":2.8,"s":"(112) PtS-Term"},{"x":0.93,"y":5,"s":"(112) PtS-Term"},
        {"x":0.26,"y":5,"s":"(211) S-Term"},{"x":0.31,"y":2.8,"s":"(211) S-Term"},{"x":0.37,"y":1.85,"s":"(211) S-Term"},{"x":0.42,"y":1.39,"s":"(211) S-Term"},{"x":0.45,"y":1.44,"s":"(211) S-Term"},{"x":0.51,"y":2.18,"s":"(211) S-Term"},{"x":0.57,"y":3.3,"s":"(211) S-Term"},{"x":0.62,"y":5,"s":"(211) S-Term"}
      ]},
       "mark": {"type": "line", "strokeWidth": 1.3, "interpolate": "monotone"},
       "encoding": {
         "x": {"field": "x", "type": "quantitative"},
         "y": {"field": "y", "type": "quantitative"},
         "color": {"field": "s", "type": "nominal"}
       }}
    ]}
  ]
}
]
}
